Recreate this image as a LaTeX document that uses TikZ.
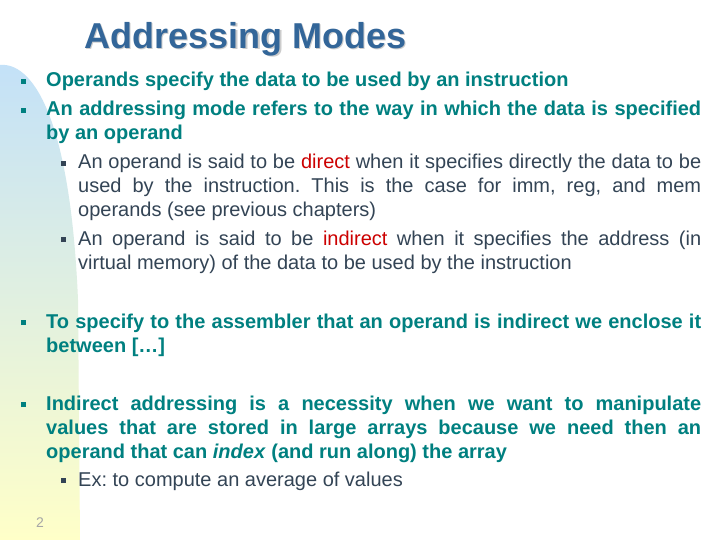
\documentclass[tikz,border=0pt]{standalone}
\usepackage{fontspec}
\setmainfont{Liberation Sans}
\definecolor{ttl}{RGB}{51,102,153}
\definecolor{tea}{RGB}{0,128,128}
\definecolor{sub}{RGB}{51,68,85}
\definecolor{rd}{RGB}{204,0,0}
\definecolor{gtop}{RGB}{195,225,248}
\definecolor{gbot}{RGB}{255,255,200}
\tikzset{
 mainl/.style={anchor=base west,inner sep=0pt,font=\fontsize{20}{24}\selectfont\bfseries,text=tea},
 subl/.style={anchor=base west,inner sep=0pt,font=\fontsize{20}{24}\selectfont,text=sub},
 bul/.style={anchor=base,inner sep=0pt},
}
\newcommand{\jl}[2]{\makebox[#1][s]{#2}}
\frenchspacing
\begin{document}
\begin{tikzpicture}[x=1pt,y=-1pt]
\useasboundingbox (0,0) rectangle (720,540);
\fill[white] (0,0) rectangle (720,540);
\shade[top color=gtop,bottom color=gbot] (0,65) .. controls (30,62) and (70,110) .. (78,300) -- (80,540) -- (0,540) -- cycle;
\node[font=\fontsize{36}{40}\selectfont\bfseries,text=gray!40,inner sep=0pt] (ts) at (247,40.5) {Addressing Modes};
\node[font=\fontsize{36}{40}\selectfont\bfseries,text=ttl,inner sep=0pt] (t) at (245.5,39) {Addressing Modes};
\foreach \y/\n in {87/b1,116/b2,328/b3,410/b4}{\node[bul,text=tea] (\n) at (23,\y-3) {\rule{5pt}{5pt}};}
\foreach \y/\n in {169/s1,245/s2,486/s3}{\node[bul,text=sub] (\n) at (63,\y-3) {\rule{5pt}{5pt}};}
\node[mainl] (l1) at (46,87) {Operands specify the data to be used by an instruction};
\node[mainl] (l2) at (46,116) {\jl{655pt}{An addressing mode refers to the way in which the data is specified}};
\node[mainl] (l3) at (46,140) {by an operand};
\node[subl] (l4) at (78,169) {\jl{623pt}{An operand is said to be \textcolor{rd}{direct} when it specifies directly the data to be}};
\node[subl] (l5) at (78,193) {\jl{623pt}{used by the instruction. This is the case for imm, reg, and mem}};
\node[subl] (l6) at (78,217) {operands (see previous chapters)};
\node[subl] (l7) at (78,245) {\jl{623pt}{An operand is said to be \textcolor{rd}{indirect} when it specifies the address (in}};
\node[subl] (l8) at (78,269) {virtual memory) of the data to be used by the instruction};
\node[mainl] (l9) at (46,328) {\jl{655pt}{To specify to the assembler that an operand is indirect we enclose it}};
\node[mainl] (l10) at (46,352) {between […]};
\node[mainl] (l11) at (46,410) {\jl{655pt}{Indirect addressing is a necessity when we want to manipulate}};
\node[mainl] (l12) at (46,434) {\jl{655pt}{values that are stored in large arrays because we need then an}};
\node[mainl] (l13) at (46,458) {operand that can \textit{index} (and run along) the array};
\node[subl] (l14) at (78,486) {Ex: to compute an average of values};
\node[anchor=base,inner sep=0pt,font=\fontsize{14}{16}\selectfont,text=gray!70] (pg) at (40,527) {2};
\end{tikzpicture}
\end{document}
